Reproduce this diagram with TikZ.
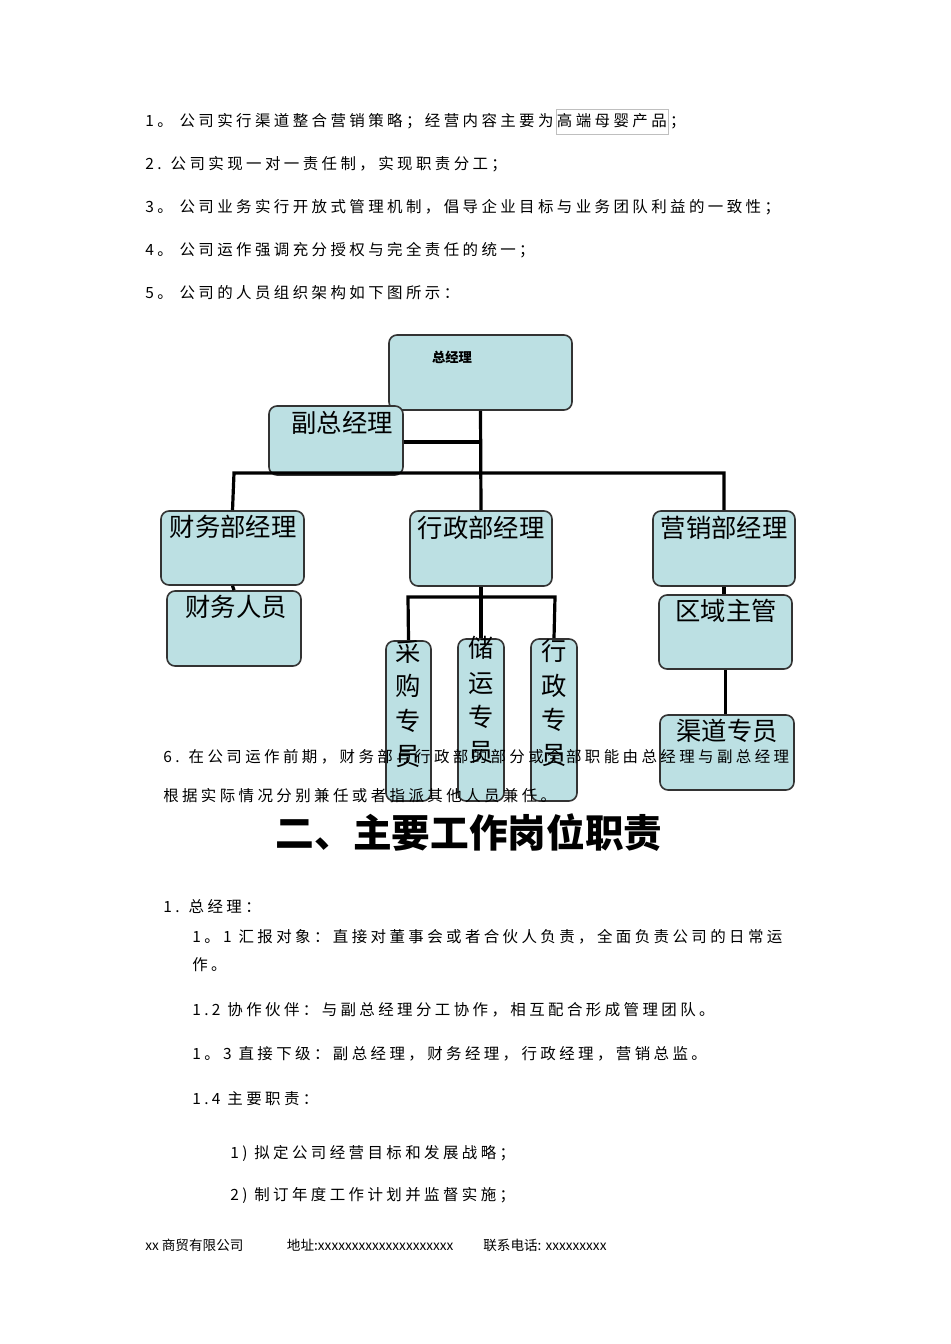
\documentclass[tikz,border=0pt]{standalone}
\usepackage{fontspec}
\setmainfont{Liberation Serif}
\newfontfamily\cjk{Noto Sans CJK SC}
\newfontfamily\cjksp{Noto Sans CJK SC}[LetterSpace=22]
\definecolor{boxfill}{HTML}{BCE0E3}
\definecolor{boxline}{HTML}{333333}
\begin{document}
\begin{tikzpicture}[x=0.75pt,y=-0.75pt,
  orgbox/.style={draw=boxline,line width=1.2pt,fill=boxfill,rounded corners=6pt,inner sep=0pt},
  big/.style={font=\cjk\fontsize{19}{22}\selectfont,inner sep=0pt},
  vbig/.style={big,align=center,font=\cjk\fontsize{19}{26}\selectfont,anchor=north},
  body/.style={anchor=west,inner sep=0pt,font=\cjksp\fontsize{11.6}{13}\selectfont},
  conn/.style={line width=2.4pt,black}]
\useasboundingbox (0,0) rectangle (950,1344);
\fill[white] (0,0) rectangle (950,1344);
% intro lines
\node[body] (l1) at (145,121) {1。 公司实行渠道整合营销策略；经营内容主要为高端母婴产品；};
\draw[gray!50,line width=0.5pt] (556,109) rectangle (668,134);
\node[body] (l2) at (145,164) {2. 公司实现一对一责任制，实现职责分工；};
\node[body] (l3) at (145,207) {3。 公司业务实行开放式管理机制，倡导企业目标与业务团队利益的一致性；};
\node[body] (l4) at (145,250) {4。 公司运作强调充分授权与完全责任的统一；};
\node[body] (l5) at (145,293) {5。 公司的人员组织架构如下图所示：};
% connector joints
\coordinate (jA) at (481,442);
\coordinate (jL) at (234,473);
\coordinate (jR) at (724,473);
\coordinate (kL) at (408,597);
\coordinate (kR) at (555,597);
% boxes
\node[orgbox,minimum width=183pt*0.75,minimum height=75pt*0.75] (gm) at (480.5,372.5) {};
\node[orgbox,minimum width=134pt*0.75,minimum height=69pt*0.75] (vgm) at (336,440.5) {};
\node[orgbox,minimum width=143pt*0.75,minimum height=74pt*0.75] (fin) at (232.5,548) {};
\node[orgbox,minimum width=142pt*0.75,minimum height=75pt*0.75] (adm) at (481,548.5) {};
\node[orgbox,minimum width=142pt*0.75,minimum height=75pt*0.75] (mkt) at (724,548.5) {};
\node[orgbox,minimum width=134pt*0.75,minimum height=75pt*0.75] (finp) at (234,628.5) {};
\node[orgbox,minimum width=133pt*0.75,minimum height=74pt*0.75] (area) at (725.5,632) {};
\node[orgbox,minimum width=134pt*0.75,minimum height=75pt*0.75] (chan) at (727,752.5) {};
\node[orgbox,minimum width=45pt*0.75,minimum height=160pt*0.75] (buy) at (408.5,721) {};
\node[orgbox,minimum width=46pt*0.75,minimum height=162pt*0.75] (sto) at (481,720) {};
\node[orgbox,minimum width=46pt*0.75,minimum height=162pt*0.75] (ads) at (554,720) {};
\draw[conn] (gm.south) -- (adm.north);
\draw[conn] (vgm.east |- jA) -- (jA);
\draw[conn] (fin.north) -- (jL) -- (jR) -- (mkt.north);
\draw[conn] (fin.south) -- (finp.north);
\draw[conn] (buy.north) -- (kL) -- (kR) -- (ads.north);
\draw[conn] (adm.south) -- (sto.north);
\draw[conn] (mkt.south) -- (area.north -| mkt.south);
\draw[conn] (area.south) -- (chan.north -| area.south);
% box texts
\node[font=\cjk\fontsize{10}{12}\selectfont\bfseries,inner sep=0pt] (gmt) at (452,357) {总经理};
\node[big] (vgmt) at (342,423) {副总经理};
\node[big] (fint) at (233,527) {财务部经理};
\node[big] (admt) at (481,528) {行政部经理};
\node[big] (mktt) at (724,528) {营销部经理};
\node[big] (finpt) at (236,607) {财务人员};
\node[big] (areat) at (726,611) {区域主管};
\node[big] (chant) at (727,731) {渠道专员};
\node[vbig] (buyt) at (408,640) {采\\购\\专\\员};
\node[vbig] (stot) at (481,636) {储\\运\\专\\员};
\node[vbig] (adst) at (554,639) {行\\政\\专\\员};
% paragraph 6
\node[body] (p6a) at (163,757) {6. 在公司运作前期，财务部与行政部的部分或全部职能由总经理与副总经理};
\node[body] (p6b) at (163,796) {根据实际情况分别兼任或者指派其他人员兼任。};
% heading
\node[inner sep=0pt,font=\cjk\fontsize{29}{32}\selectfont\bfseries] (head) at (469,833) {二、主要工作岗位职责};
% section
\node[body] (s1) at (163,907) {1. 总经理：};
\node[body] (s11) at (192,937) {1。1 汇报对象：直接对董事会或者合伙人负责，全面负责公司的日常运};
\node[body] (s11b) at (192,965) {作。};
\node[body] (s12) at (192,1010) {1.2 协作伙伴：与副总经理分工协作，相互配合形成管理团队。};
\node[body] (s13) at (192,1054) {1。3 直接下级：副总经理，财务经理，行政经理，营销总监。};
\node[body] (s14) at (192,1099) {1.4 主要职责：};
\node[body] (s141) at (230,1153) {1) 拟定公司经营目标和发展战略；};
\node[body] (s142) at (230,1195) {2) 制订年度工作计划并监督实施；};
% footer
\node[anchor=west,inner sep=0pt,font=\cjk\fontsize{10.2}{12}\selectfont] (foot) at (145,1245) {xx 商贸有限公司\hspace{3.2em}地址:xxxxxxxxxxxxxxxxxxxx\hspace{2.2em}联系电话: xxxxxxxxx};
\end{tikzpicture}
\end{document}
